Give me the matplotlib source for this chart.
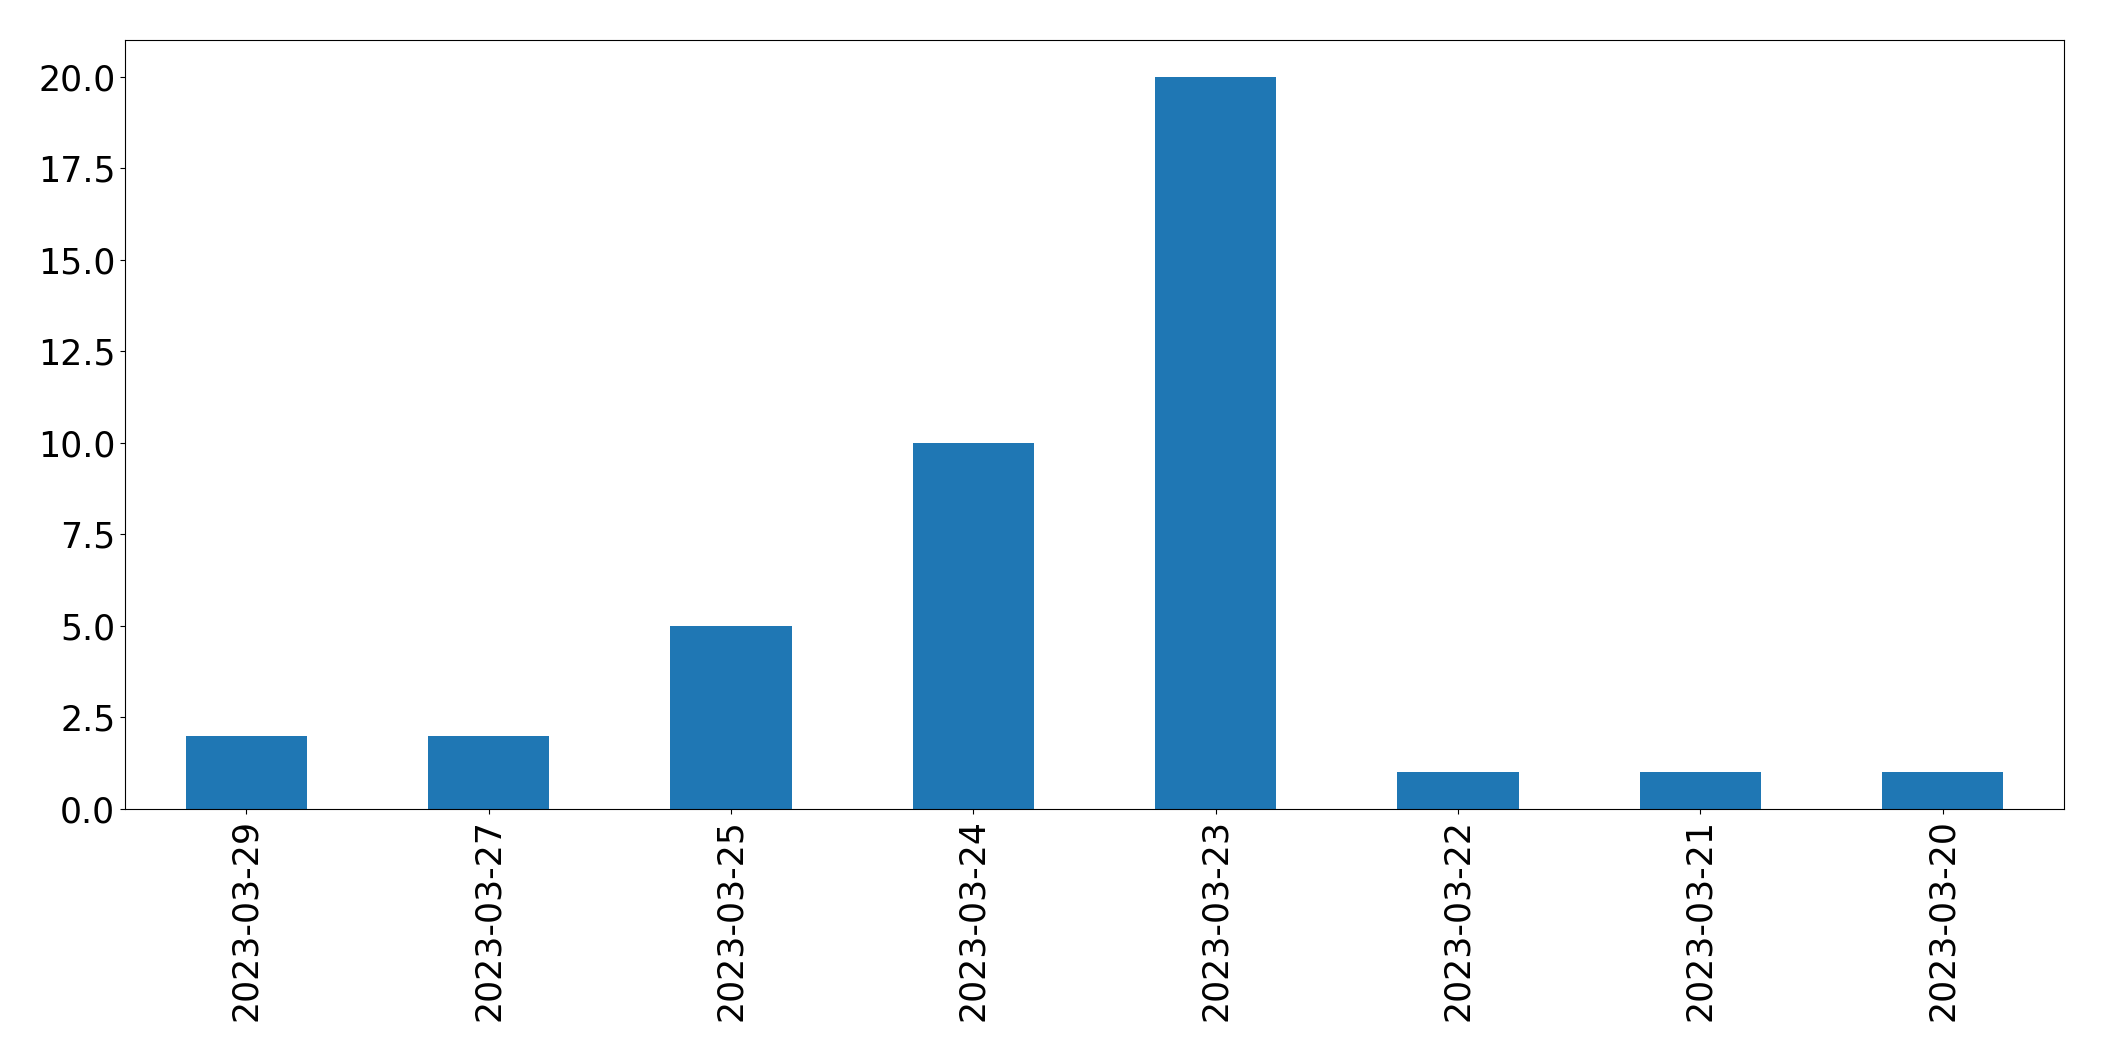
import matplotlib
matplotlib.use("Agg")
import matplotlib.pyplot as plt

dates = ["2023-03-29", "2023-03-27", "2023-03-25", "2023-03-24",
         "2023-03-23", "2023-03-22", "2023-03-21", "2023-03-20"]
counts = [2, 2, 5, 10, 20, 1, 1, 1]

fig = plt.figure(figsize=(21.04, 10.61), dpi=100)
ax = fig.add_axes([0.0594, 0.2375, 0.9216, 0.7248])
x = list(range(len(dates)))
ax.bar(x, counts, width=0.5, color="#1f77b4")
ax.set_xticks(x)
ax.set_xticklabels(dates, rotation=90)
ax.set_xlim(-0.5, len(dates) - 0.5)
ax.set_ylim(0, 21)
ax.set_yticks([0, 2.5, 5, 7.5, 10, 12.5, 15, 17.5, 20])
ax.set_yticklabels(["0.0", "2.5", "5.0", "7.5", "10.0", "12.5", "15.0", "17.5", "20.0"])
ax.tick_params(labelsize=25)
fig.savefig("out.png", dpi=100)
